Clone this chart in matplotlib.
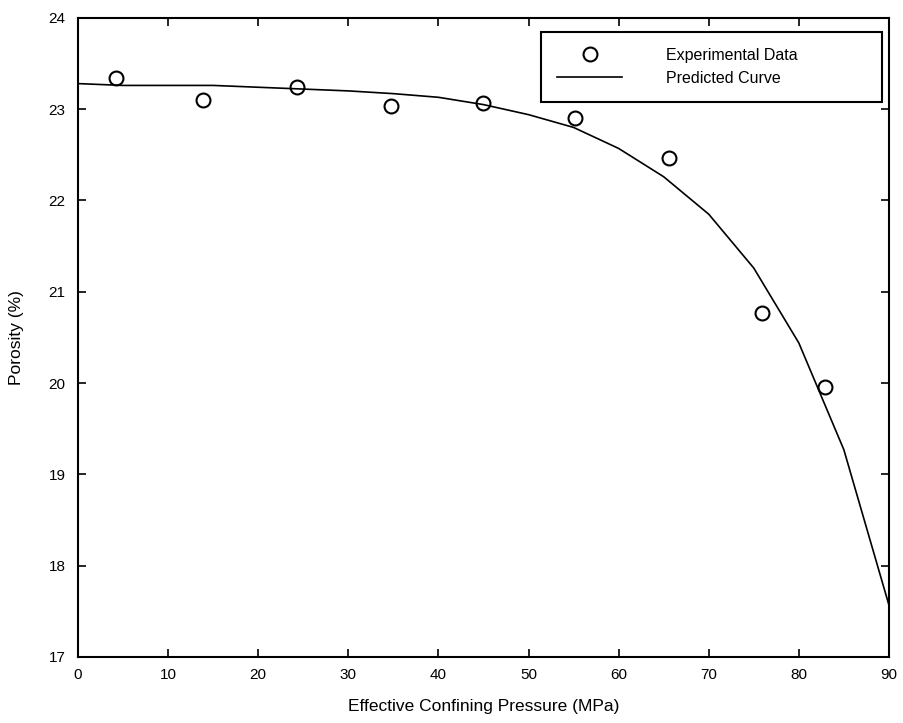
import matplotlib
matplotlib.use("Agg")
import matplotlib.pyplot as plt

plt.rcParams['font.family'] = ['Liberation Sans', 'DejaVu Sans']

# Experimental data
exp_pressure = [4.2, 13.9, 24.3, 34.7, 45.0, 55.2, 65.6, 75.9, 82.9]
exp_porosity = [23.34, 23.10, 23.24, 23.03, 23.07, 22.90, 22.46, 20.77, 19.96]

# Predicted curve
pred_pressure = [0, 5, 10, 15, 20, 25, 30, 35, 40, 45, 50, 55, 60, 65, 70, 75, 80, 85, 90]
pred_porosity = [23.28, 23.26, 23.26, 23.26, 23.24, 23.22, 23.20, 23.17, 23.13, 23.05,
                 22.94, 22.80, 22.57, 22.26, 21.85, 21.26, 20.44, 19.27, 17.57]

fig = plt.figure(figsize=(9.04, 7.23), dpi=100)
ax = fig.add_axes([0.0863, 0.0913, 0.897, 0.884])

ax.plot(exp_pressure, exp_porosity, 'o', mfc='white', mec='black', ms=10, mew=1.5,
        linestyle='none', label='Experimental Data')
ax.plot(pred_pressure, pred_porosity, '-', color='black', lw=1.2, label='Predicted Curve')

ax.set_xlim(0, 90)
ax.set_ylim(17, 24)
ax.set_xticks(range(0, 91, 10))
ax.set_yticks(range(17, 25))
ax.tick_params(direction='in', top=True, right=True, length=6, width=1.2,
               labelsize=11, pad=8)
ax.tick_params(axis='y', pad=9)
for s in ax.spines.values():
    s.set_linewidth(1.5)

ax.set_xlabel('Effective Confining Pressure (MPa)', fontsize=12.5, labelpad=12)
ax.set_ylabel('Porosity (%)', fontsize=12.5, labelpad=18)

# legend box spans a fixed region of the axes (upper right)
leg = ax.legend(loc='upper left', bbox_to_anchor=(0.571, 0.5, 0.4205, 0.478),
                mode='expand', fontsize=11.5, handlelength=4.1, handletextpad=2.7,
                borderpad=1.0, labelspacing=0.5, fancybox=False, framealpha=1,
                borderaxespad=0)
leg.get_frame().set_edgecolor('black')
leg.get_frame().set_linewidth(1.5)

fig.savefig('out.png', dpi=100)
